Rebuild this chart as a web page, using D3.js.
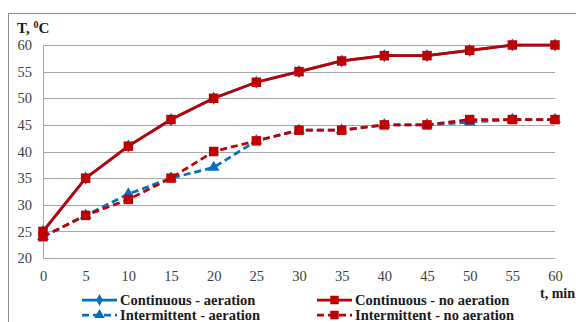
<!DOCTYPE html>
<html><head><meta charset="utf-8">
<script src="https://cdn.jsdelivr.net/npm/d3@7"></script>
<style>body{margin:0;background:#fff}svg{display:block}</style>
</head><body>
<script>
const times = [0,5,10,15,20,25,30,35,40,45,50,55,60];
const contAeration = [25,35,41,46,50,53,55,57,58,58,59,60,60];
const interAeration = [24,28,32,35,37,42,44,44,45,45,45.5,46,46];
const contNoAeration = [25,35,41,46,50,53,55,57,58,58,59,60,60];
const interNoAeration = [24,28,31,35,40,42,44,44,45,45,46,46,46];
const yTicks = [20,25,30,35,40,45,50,55,60];
const xTicks = [0,5,10,15,20,25,30,35,40,45,50,55,60];

const FONT="Liberation Serif";
const W=576,H=322;
const svg=d3.select("body").append("svg").attr("width",W).attr("height",H);
svg.append("rect").attr("x",8.5).attr("y",13.5).attr("width",W).attr("height",H)
  .attr("fill","none").attr("stroke","#8c8c8c");

const x=d3.scaleLinear().domain([0,60]).range([43,555]);
const y=d3.scaleLinear().domain([20,60]).range([258,45]);

svg.append("g").selectAll("line").data(yTicks).join("line")
  .attr("x1",x(0)).attr("x2",x(60)).attr("y1",d=>Math.round(y(d))+0.5).attr("y2",d=>Math.round(y(d))+0.5)
  .attr("stroke","#a6a6a6").attr("stroke-width",1);
svg.append("line").attr("x1",x(0)+0.5).attr("x2",x(0)+0.5).attr("y1",y(60)).attr("y2",y(20))
  .attr("stroke","#a6a6a6");

const yAxis=d3.axisLeft(y).tickValues(yTicks).tickSize(0).tickPadding(11);
const gy=svg.append("g").attr("transform",`translate(${x(0)},0)`).call(yAxis);
gy.attr("font-family",FONT).attr("font-size",14);
gy.select(".domain").remove();
gy.selectAll("text").style("font-family",FONT).style("font-size","14.5px").attr("fill","#404040");
const xAxis=d3.axisBottom(x).tickValues(xTicks).tickSize(0).tickPadding(13);
const gx=svg.append("g").attr("transform",`translate(0,${y(20)})`).call(xAxis);
gx.attr("font-family",FONT).attr("font-size",14);
gx.select(".domain").remove();
gx.selectAll("text").style("font-family",FONT).style("font-size","14.5px").attr("fill","#404040");

svg.append("text").attr("x",17).attr("y",33).style("font-family",FONT).style("font-weight","bold")
  .style("font-size","15px").attr("fill","#1a1a1a")
  .html("T, <tspan dy='-5' style='font-size:10px'>0</tspan><tspan dy='5'>C</tspan>");
svg.append("text").attr("x",540).attr("y",298).style("font-family",FONT).style("font-weight","bold")
  .style("font-size","14px").attr("fill","#1a1a1a").text("t, min");

const series=[
 {name:"Continuous - aeration",vals:contAeration,color:"#0070C0",dash:null,marker:"diamond"},
 {name:"Intermittent - aeration",vals:interAeration,color:"#0070C0",dash:"7,4",marker:"triangle"},
 {name:"Continuous - no aeration",vals:contNoAeration,color:"#C00000",dash:null,marker:"square"},
 {name:"Intermittent - no aeration",vals:interNoAeration,color:"#C00000",dash:"7,4",marker:"square"}
];
const line=d3.line().x((d,i)=>x(times[i])).y(d=>y(d));
const sym={diamond:d3.symbolDiamond,triangle:d3.symbolTriangle,square:d3.symbolSquare};
const symSize={diamond:50,triangle:60,square:90};
series.forEach(s=>{
  svg.append("path").datum(s.vals).attr("d",line).attr("fill","none")
    .attr("stroke",s.color).attr("stroke-width",2.75).attr("stroke-dasharray",s.dash);
  svg.append("g").selectAll("path").data(s.vals).join("path")
    .attr("transform",(d,i)=>`translate(${x(times[i])},${y(d)})`)
    .attr("d",d3.symbol().type(sym[s.marker]).size(symSize[s.marker]))
    .attr("fill",s.color);
});

const leg=[
 {s:series[0],lx:82,ly:300},{s:series[2],lx:317,ly:300},
 {s:series[1],lx:82,ly:315},{s:series[3],lx:317,ly:315}
];
leg.forEach(l=>{
  svg.append("line").attr("x1",l.lx).attr("x2",l.lx+35).attr("y1",l.ly).attr("y2",l.ly)
    .attr("stroke",l.s.color).attr("stroke-width",2.75).attr("stroke-dasharray",l.s.dash);
  svg.append("path").attr("transform",`translate(${l.lx+17.5},${l.ly})`)
    .attr("d",d3.symbol().type(sym[l.s.marker]).size(symSize[l.s.marker]*0.8)).attr("fill",l.s.color);
  svg.append("text").attr("x",l.lx+38).attr("y",l.ly+5)
    .style("font-family",FONT).style("font-weight","bold").style("font-size","14.5px")
    .attr("fill","#1a1a1a").text(l.s.name);
});
</script>
</body></html>
